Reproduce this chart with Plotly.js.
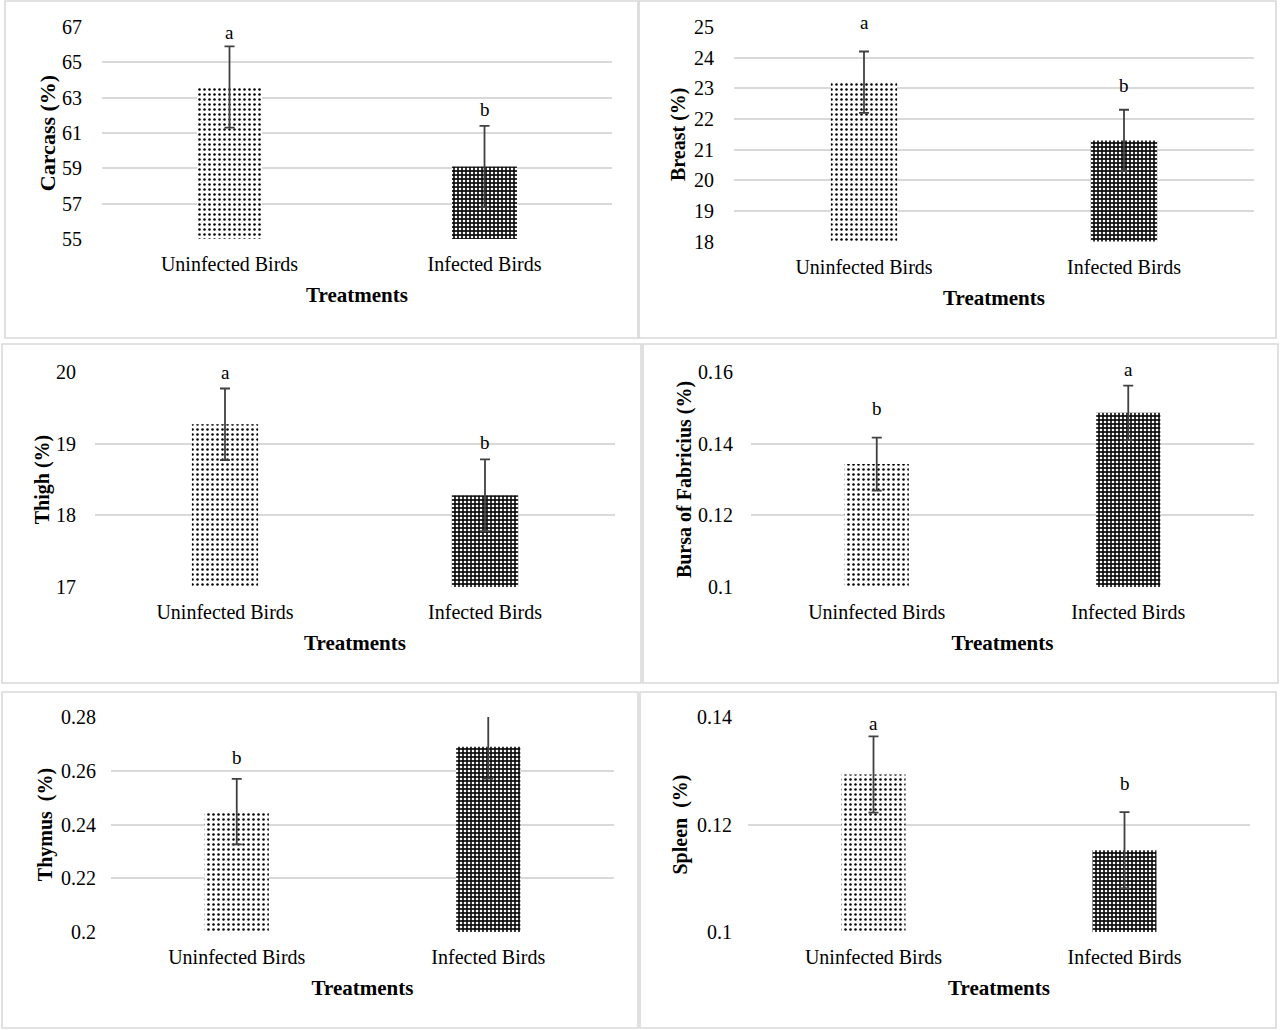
<!DOCTYPE html>
<html>
<head>
<meta charset="utf-8">
<script src="https://cdn.plot.ly/plotly-3.0.1.min.js"></script>
<style>
  html, body { margin: 0; padding: 0; background: #ffffff; }
  #chart { width: 1280px; height: 1030px; }
</style>
</head>
<body>
<div id="chart"></div>
<script>
// ---------------- DATA ----------------
var categories = ['Uninfected Birds', 'Infected Birds'];

var carcass    = [63.6, 59.1];
var carcassErr = [2.3, 2.3];
var carcassSig = ['a', 'b'];

var breast     = [23.2, 21.3];
var breastErr  = [1.0, 1.0];
var breastSig  = ['a', 'b'];

var thigh      = [19.27, 18.28];
var thighErr   = [0.5, 0.5];
var thighSig   = ['a', 'b'];

var bursa      = [0.1343, 0.1486];
var bursaErr   = [0.0074, 0.0076];
var bursaSig   = ['b', 'a'];

var thymus     = [0.2448, 0.2689];
var thymusErr  = [0.0122, 0.0118];
var thymusSig  = ['b', 'a'];

var spleen     = [0.1293, 0.1152];
var spleenErr  = [0.0071, 0.0071];
var spleenSig  = ['a', 'b'];

var carcassTicks = [55, 57, 59, 61, 63, 65, 67];
var breastTicks  = [18, 19, 20, 21, 22, 23, 24, 25];
var thighTicks   = [17, 18, 19, 20];
var bursaTicks   = [0.1, 0.12, 0.14, 0.16];
var thymusTicks  = [0.2, 0.22, 0.24, 0.26, 0.28];
var spleenTicks  = [0.1, 0.12, 0.14];

var xTitle = 'Treatments';

// ---------------- PANEL CONFIG ----------------
var W = 1280, H = 1030;
var panels = [
  { title: 'Carcass (%)', values: carcass, err: carcassErr, sig: carcassSig, ticks: carcassTicks,
    plot: [102, 612, 27, 239], box: [5, 638, 1, 338], titleSize: 22, ticklen: 15, ystand: 0, sigShift: [14, 16] },
  { title: 'Breast (%)', values: breast, err: breastErr, sig: breastSig, ticks: breastTicks,
    plot: [734, 1254, 27, 241.5], box: [639, 1276, 1, 338], titleSize: 20, ticklen: 15, ystand: 3, sigShift: [29, 24] },
  { title: 'Thigh (%)', values: thigh, err: thighErr, sig: thighSig, ticks: thighTicks,
    plot: [95, 615, 372, 587], box: [2, 641, 344, 683], titleSize: 20, ticklen: 14, ystand: 1, sigShift: [16, 17] },
  { title: 'Bursa of Fabricius (%)', values: bursa, err: bursaErr, sig: bursaSig, ticks: bursaTicks,
    plot: [751, 1254, 372, 587], box: [643, 1278, 344, 683], titleSize: 20, ticklen: 13, ystand: 1, sigShift: [29, 16] },
  { title: 'Thymus  (%)', values: thymus, err: thymusErr, sig: thymusSig, ticks: thymusTicks,
    plot: [111, 614, 717, 932], box: [2, 638, 692, 1028], titleSize: 20, ticklen: 10, ystand: 3, sigShift: [21, 5] },
  { title: 'Spleen  (%)', values: spleen, err: spleenErr, sig: spleenSig, ticks: spleenTicks,
    plot: [748, 1250, 717, 932], box: [640, 1276, 692, 1028], titleSize: 20, ticklen: 11, ystand: 4, sigShift: [13, 29] }
];

var FONT = 'Liberation Serif, Times New Roman, serif';
var TXT = '#000000';
var GRID = '#d9d9d9';

// bar styles per category (light dotted / dense dark dotted)
var barStyles = [
  { color: '#ffffff', pattern: { shape: '.', fgcolor: '#000000', bgcolor: '#ffffff', size: 5, solidity: 0.2, fillmode: 'replace' } },
  { color: '#000000', pattern: { shape: '.', fgcolor: '#ffffff', bgcolor: '#111111', size: 4, solidity: 0.33, fillmode: 'replace' } }
];

var traces = [];
var layout = {
  width: W, height: H,
  margin: { l: 0, r: 0, t: 0, b: 0, pad: 0 },
  paper_bgcolor: '#ffffff',
  plot_bgcolor: 'rgba(0,0,0,0)',
  showlegend: false,
  barmode: 'overlay',
  font: { family: FONT, color: TXT, size: 18 },
  shapes: [],
  annotations: []
};

panels.forEach(function (p, i) {
  var n = i + 1;
  var xa = 'x' + (n === 1 ? '' : n);
  var ya = 'y' + (n === 1 ? '' : n);

  categories.forEach(function (c, k) {
    traces.push({
      type: 'bar',
      name: c,
      x: [c],
      y: [p.values[k]],
      xaxis: xa, yaxis: ya,
      width: 0.255,
      marker: {
        color: barStyles[k].color,
        line: { width: 0 },
        pattern: barStyles[k].pattern
      },
      error_y: {
        type: 'data', array: [p.err[k]], visible: true,
        color: '#404040', thickness: 1.8, width: 5
      },
      hoverinfo: 'x+y'
    });
  });

  var x0 = p.plot[0] / W, x1 = p.plot[1] / W;
  var y0 = 1 - p.plot[3] / H, y1 = 1 - p.plot[2] / H;
  var lo = p.ticks[0], hi = p.ticks[p.ticks.length - 1];
  var eps = (hi - lo) * 1e-6;

  layout['xaxis' + (n === 1 ? '' : n)] = {
    domain: [x0, x1], anchor: ya,
    type: 'category', categoryorder: 'array', categoryarray: categories,
    range: [-0.5, 1.5],
    showgrid: false, zeroline: false, showline: false,
    ticks: 'outside', ticklen: 7, tickcolor: 'rgba(0,0,0,0)',
    tickfont: { family: FONT, size: 20, color: TXT },
    title: { text: xTitle, standoff: 13, font: { family: FONT, size: 21, color: TXT, weight: 'bold' } },
    fixedrange: true
  };
  layout['yaxis' + (n === 1 ? '' : n)] = {
    domain: [y0, y1], anchor: xa,
    range: [lo, hi + eps],
    tickvals: p.ticks,
    showgrid: true, gridcolor: GRID, gridwidth: 2,
    zeroline: false, showline: false,
    ticks: 'outside', ticklen: p.ticklen, tickcolor: 'rgba(0,0,0,0)',
    tickfont: { family: FONT, size: 20, color: TXT },
    title: { text: p.title, standoff: p.ystand, font: { family: FONT, size: p.titleSize, color: TXT, weight: 'bold' } },
    fixedrange: true
  };

  layout.shapes.push({
    type: 'rect', xref: 'paper', yref: 'paper', layer: 'below',
    x0: p.box[0] / W, x1: p.box[1] / W,
    y0: 1 - p.box[3] / H, y1: 1 - p.box[2] / H,
    line: { color: '#d9d9d9', width: 1.6 }, fillcolor: 'rgba(0,0,0,0)'
  });

  categories.forEach(function (c, k) {
    layout.annotations.push({
      xref: xa, yref: ya, x: c, y: p.values[k] + p.err[k],
      text: p.sig[k], showarrow: false, yshift: p.sigShift[k],
      font: { family: FONT, size: 19, color: TXT }
    });
  });
});

Plotly.newPlot('chart', traces, layout, { displayModeBar: false, staticPlot: true });
</script>
</body>
</html>
